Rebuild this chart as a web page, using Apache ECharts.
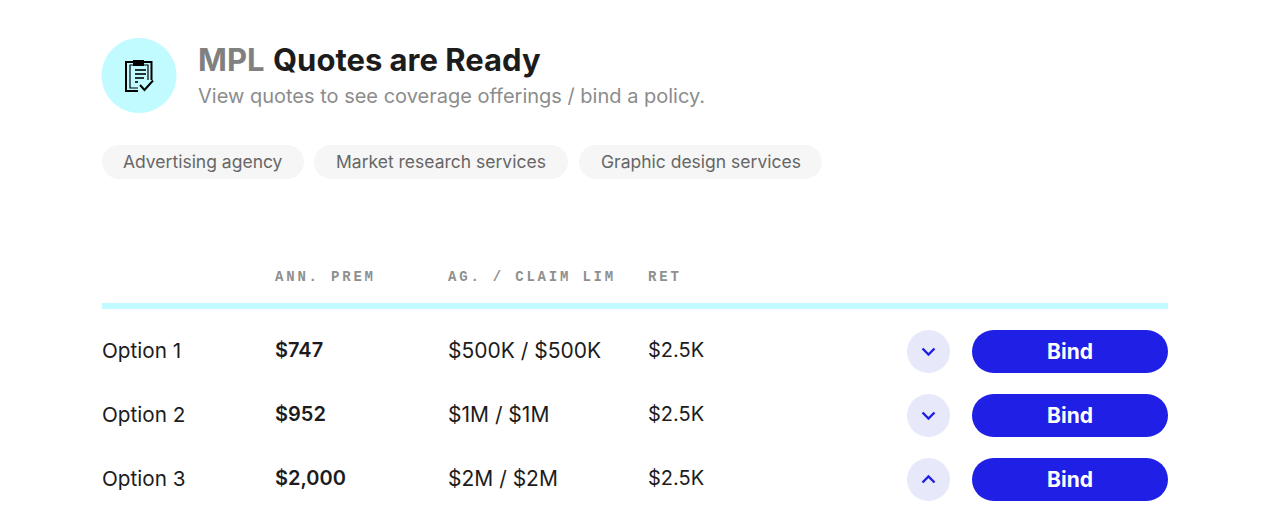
<!DOCTYPE html>
<html><head><meta charset="utf-8">
<style>html,body{margin:0;padding:0;background:#fff}#c{width:1271px;height:531px}
text[style*="Mono"]{letter-spacing:2.8px}</style>
<script src="https://cdn.jsdelivr.net/npm/echarts@6/dist/echarts.min.js"></script></head><body><div id="c"></div>
<script>
const titleMuted = 'MPL';
const titleMain = 'Quotes are Ready';
const subtitle = 'View quotes to see coverage offerings / bind a policy.';
const tags = ['Advertising agency', 'Market research services', 'Graphic design services'];
const columns = ['ANN. PREM', 'AG. / CLAIM LIM', 'RET'];
const options = ['Option 1', 'Option 2', 'Option 3'];
const premiums = ['$747', '$952', '$2,000'];
const limits = ['$500K / $500K', '$1M / $1M', '$2M / $2M'];
const retentions = ['$2.5K', '$2.5K', '$2.5K'];
const expanded = [0, 0, 1];
const actionLabel = 'Bind';

const SANS = 'Inter';
const MONO = '"Liberation Mono"';
const INK = '#1c1c1c', BLUE = '#1f1fe5', LAV = '#e8e8fb', CYAN = '#c2fbff';
const colX = [275, 448, 648];
const tagBoxes = [[102, 202, 123], [314, 254, 336], [579, 243, 601]];
const T = (x, y, text, size, weight, fill, family, extra) => ({type: 'text', x, y, z: 5, style: Object.assign({
  text, fontSize: size, fontWeight: weight, fill, fontFamily: family || SANS, textVerticalAlign: 'middle', verticalAlign: 'middle'}, extra || {})});
const line = (pts, w, color) => ({type: 'polyline', z: 6, shape: {points: pts}, style: {stroke: color, lineWidth: w, fill: 'none', lineJoin: 'miter'}});

const icon = [
  {type: 'rect', z: 6, shape: {x: 126, y: 62, width: 25.5, height: 29}, style: {stroke: '#000', lineWidth: 2, fill: 'none'}},
  {type: 'rect', z: 6, shape: {x: 130, y: 65, width: 18, height: 23}, style: {stroke: '#000', lineWidth: 1.2, fill: '#c2fbff'}},
  {type: 'rect', z: 6, shape: {x: 133, y: 60, width: 11, height: 6}, style: {fill: '#000'}},
  line([[135, 70], [146, 70]], 1.6, '#000'), line([[135, 74], [146, 74]], 1.6, '#000'),
  line([[135, 78], [144, 78]], 1.6, '#000'), line([[135, 82], [140, 82]], 1.6, '#000'),
  {type: 'rect', z: 6, shape: {x: 138, y: 80, width: 16, height: 13}, style: {fill: '#c2fbff'}},
  line([[140, 85], [144.5, 90], [153, 80.5]], 2, '#000')
];

const graphics = [
  {type: 'circle', shape: {cx: 139, cy: 75.5, r: 37.5}, style: {fill: CYAN}},
  ...icon,
  T(198, 59, titleMuted, 31, 700, '#808080'),
  T(273, 59, titleMain, 31, 700, INK),
  T(198, 96, subtitle, 20, 400, '#8c8c8c'),
  ...tags.flatMap((t, i) => [
    {type: 'rect', shape: {x: tagBoxes[i][0], y: 145, width: tagBoxes[i][1], height: 34, r: 17}, style: {fill: '#f6f6f6'}},
    T(tagBoxes[i][2], 161, t, 17.5, 400, '#666')
  ]),
  ...columns.map((c, i) => T(colX[i], 276.5, c, 14, 700, '#8f8f8f', MONO)),
  {type: 'rect', shape: {x: 102, y: 303, width: 1066, height: 6}, style: {fill: CYAN}}
];

const chart = echarts.init(document.getElementById('c'), null, {renderer: 'svg'});
chart.setOption({
  animation: false,
  backgroundColor: '#fff',
  grid: {left: 0, right: 0, top: 319.5, height: 192},
  xAxis: {type: 'value', min: 0, max: 1271, show: false},
  yAxis: {type: 'category', data: options, inverse: true, show: false},
  graphic: graphics,
  series: [{
    type: 'custom',
    coordinateSystem: 'cartesian2d',
    silent: true,
    clip: false,
    encode: {x: 0, y: 1},
    data: options.map((o, i) => [0, i]),
    renderItem(params, api) {
      const i = params.dataIndex;
      const cy = api.coord([0, i])[1];
      const ty = cy - 1.5;
      const cx = 928.5;
      const d = expanded[i] ? -1 : 1;
      return {type: 'group', children: [
        T(102, ty, options[i], 20.7, 400, INK),
        T(colX[0], ty, premiums[i], 20, 600, INK),
        T(colX[1], ty, limits[i], 21, 400, INK),
        T(colX[2], ty, retentions[i], 20, 400, INK),
        {type: 'circle', shape: {cx, cy: cy, r: 21.5}, style: {fill: LAV}},
        line([[cx - 6, cy - 3 * d], [cx, cy + 3 * d], [cx + 6, cy - 3 * d]], 2.4, BLUE),
        {type: 'rect', shape: {x: 972, y: cy - 21.5, width: 196, height: 43, r: 21.5}, style: {fill: BLUE}},
        T(1070, cy - 0.5, actionLabel, 21, 700, '#fff', SANS, {textAlign: 'center', align: 'center'})
      ]};
    }
  }]
});
</script></body></html>
